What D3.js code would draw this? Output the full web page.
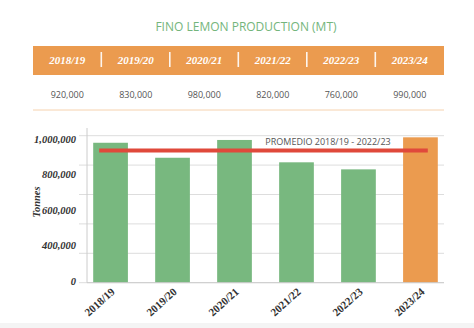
<!DOCTYPE html>
<html><head><meta charset="utf-8">
<script src="https://cdn.jsdelivr.net/npm/d3@7"></script>
<style>body{margin:0;background:#fff}svg{display:block}</style>
</head><body><svg id="c" width="474" height="328"></svg>
<script>
const categories = ["2018/19","2019/20","2020/21","2021/22","2022/23","2023/24"];
const tableValues = ["920,000","830,000","980,000","820,000","760,000","990,000"];
const barValues = [952000, 850000, 971000, 819000, 771000, 989000];
const averageValue = 900000;
const averageLabel = "PROMEDIO 2018/19 - 2022/23";
const yTickLabels = ["1,000,000","800,000","600,000","400,000","0"];
const gridValues = [0, 200000, 400000, 600000, 800000, 1000000];
const title = "FINO LEMON PRODUCTION (MT)";

const svg = d3.select("#c");
svg.append("rect").attr("x",0).attr("y",323).attr("width",474).attr("height",5).attr("fill","#f4f4f4");

svg.append("text").attr("x",246).attr("y",31).attr("text-anchor","middle")
  .attr("font-family","Open Sans").attr("font-size",12).attr("fill","#74b57c").text(title);

// table
const tx = d3.scaleBand().domain(categories).range([33,444]);
svg.append("rect").attr("x",33).attr("y",46).attr("width",411).attr("height",29).attr("fill","#eb9b4f");
svg.selectAll(".sep").data(categories.slice(1)).join("rect")
  .attr("x",d=>tx(d)-1).attr("y",52).attr("width",1.6).attr("height",15).attr("fill","#fff").attr("opacity",0.9);
svg.selectAll(".hd").data(categories).join("text")
  .attr("x",d=>tx(d)+tx.bandwidth()/2).attr("y",64).attr("text-anchor","middle")
  .attr("font-family","Liberation Serif").attr("font-weight","bold").attr("font-style","italic")
  .attr("font-size",11).attr("fill","#fff").text(d=>d);
svg.selectAll(".tv").data(tableValues).join("text")
  .attr("x",(d,i)=>tx(categories[i])+tx.bandwidth()/2).attr("y",98).attr("text-anchor","middle")
  .attr("font-family","Open Sans").attr("font-size",9).attr("fill","#555").text(d=>d);
svg.append("line").attr("x1",33).attr("x2",444).attr("y1",110).attr("y2",110).attr("stroke","#f6d2ae").attr("stroke-width",1);

// chart
const x = d3.scaleBand().domain(categories).range([87,444]).paddingInner(0.44).paddingOuter(0.1);
const y = d3.scaleLinear().domain([0,1000000]).range([282.7,135.7]);
const yl = d3.scalePoint().domain(yTickLabels).range([139,281]);

svg.append("g").selectAll("line").data(gridValues).join("line")
  .attr("x1",79).attr("x2",444).attr("y1",d=>y(d)).attr("y2",d=>y(d)).attr("stroke","#ddd");
svg.append("line").attr("x1",87).attr("x2",87).attr("y1",128).attr("y2",y(0)).attr("stroke","#ccc");

const gy = svg.append("g").attr("transform","translate(78,0)")
  .call(d3.axisLeft(yl).tickSize(0).tickPadding(2));
gy.select(".domain").remove();
gy.selectAll(".tick text").attr("font-family","Liberation Serif").attr("font-weight","bold")
  .attr("font-style","italic").attr("font-size",10.5).attr("fill","#333");

svg.selectAll(".bar").data(barValues).join("rect")
  .attr("x",(d,i)=>x(categories[i])).attr("width",x.bandwidth())
  .attr("y",d=>y(d)).attr("height",d=>y(0)-y(d))
  .attr("fill",(d,i)=>i===categories.length-1?"#eb9b4f":"#78b87f");

svg.append("line").attr("x1",87).attr("x2",444).attr("y1",y(0)).attr("y2",y(0)).attr("stroke","#ccc");

svg.append("line").attr("x1",x(categories[0])+6).attr("x2",x(categories[5])+x.bandwidth()-10)
  .attr("y1",y(averageValue)).attr("y2",y(averageValue)).attr("stroke","#e0493b").attr("stroke-width",4);
svg.append("text").attr("x",328).attr("y",145).attr("text-anchor","middle")
  .attr("font-family","Open Sans").attr("font-size",9).attr("fill","#555").text(averageLabel);

const gx = svg.append("g").attr("transform",`translate(0,${y(0)})`)
  .call(d3.axisBottom(x).tickSize(0).tickPadding(0));
gx.select(".domain").remove();
gx.selectAll(".tick text").attr("font-family","Liberation Serif").attr("font-weight","bold")
  .attr("font-size",11).attr("fill","#333").attr("text-anchor","end").attr("y",0).attr("dy",0)
  .attr("transform","translate(5,10) rotate(-42)");

svg.append("text").attr("transform","translate(40,202) rotate(-90)").attr("text-anchor","middle")
  .attr("font-family","Liberation Serif").attr("font-weight","bold").attr("font-style","italic")
  .attr("font-size",10.5).attr("fill","#333").text("Tonnes");
</script></body></html>
